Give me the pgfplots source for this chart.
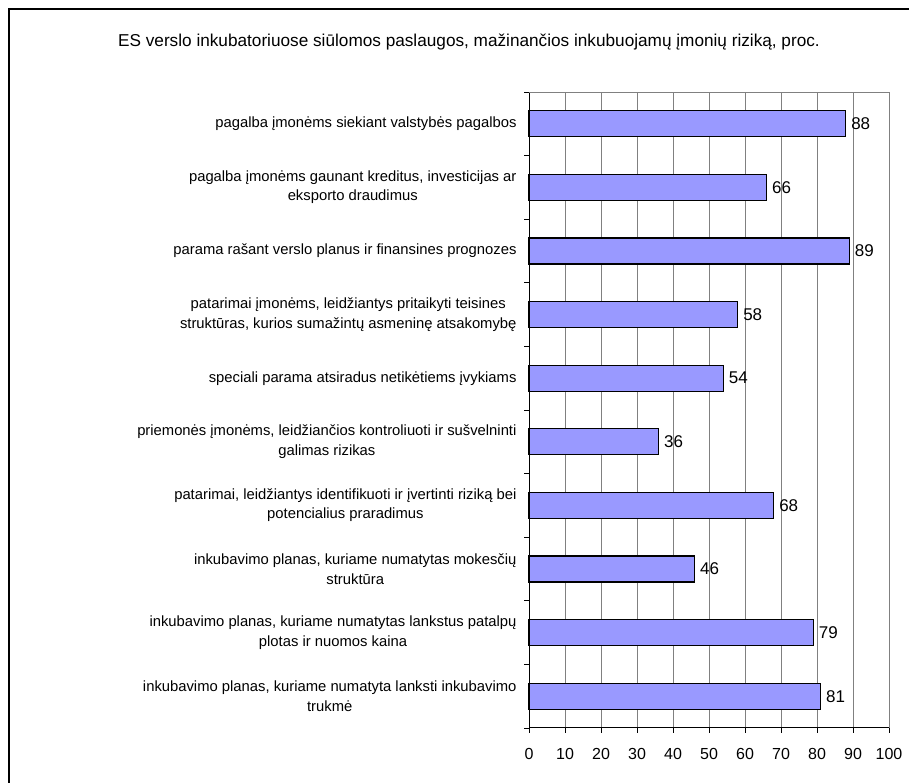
\documentclass[border=0pt]{standalone}
\usepackage{fontspec}
\setmainfont{Liberation Sans}
\usepackage{pgfplots}
\pgfplotsset{compat=1.18}
\definecolor{barfill}{HTML}{9999FF}
\definecolor{gridgray}{HTML}{808080}

\begin{document}
\begin{tikzpicture}
\useasboundingbox (0pt,0pt) rectangle (909pt,783pt);
% outer frame (only top and left visible)
\draw[line width=1.8pt] (9pt,-10pt) -- (9pt,774pt) -- (930pt,774pt);
\node[font=\fontsize{17.2}{19}\selectfont] at (469pt,741pt)
  {ES verslo inkubatoriuose siūlomos paslaugos, mažinančios inkubuojamų įmonių riziką, proc.};
\begin{axis}[
    at={(529pt,55pt)}, anchor=south west,
    scale only axis,
    width=360pt, height=636pt,
    xbar, bar width=26pt,
    xmin=0, xmax=100,
    ymin=-0.5, ymax=9.5,
    xtick={0,10,...,100},
    ytick={0,...,9},
    minor ytick={-0.5,0.5,...,9.5},
    major y tick style={draw=none},
    tick align=outside,
    major tick length=5pt, minor tick length=5pt,
    tick style={black, thick},
    xmajorgrids, major grid style={gridgray, line width=0.9pt},
    axis x line*=bottom, axis y line*=left,
    axis line style={black, line width=1pt},
    extra y ticks={9.5}, extra y tick labels={},
    extra y tick style={grid=major, major tick length=0pt},
    /pgf/number format/assume math mode=true,
    yticklabels={
      {inkubavimo planas, kuriame numatyta lanksti inkubavimo\\trukmė},
      {inkubavimo planas, kuriame numatytas lankstus patalpų\\plotas ir nuomos kaina},
      {inkubavimo planas, kuriame numatytas mokesčių\\struktūra},
      {patarimai, leidžiantys identifikuoti ir įvertinti riziką bei\\potencialius praradimus},
      {priemonės įmonėms, leidžiančios kontroliuoti ir sušvelninti\\galimas rizikas},
      {speciali parama atsiradus netikėtiems įvykiams},
      {patarimai įmonėms, leidžiantys pritaikyti teisines\\struktūras, kurios sumažintų asmeninę atsakomybę},
      {parama rašant verslo planus ir finansines prognozes},
      {pagalba įmonėms gaunant kreditus, investicijas ar\\eksporto draudimus},
      {pagalba įmonėms siekiant valstybės pagalbos}},
    yticklabel style={font=\fontsize{14.8}{19.5}\selectfont, align=center, xshift=-4pt},
    xticklabel style={font=\fontsize{16}{18}\selectfont, yshift=-12pt},
    nodes near coords, point meta=x,
    nodes near coords style={font=\fontsize{17}{18}\selectfont, anchor=west, xshift=1.5pt},
    clip=false,
]
\addplot[fill=barfill, draw=black, line width=1.3pt] coordinates {
    (81,0) (79,1) (46,2) (68,3) (36,4)
    (54,5) (58,6) (89,7) (66,8) (88,9)
};
\end{axis}
\end{tikzpicture}
\end{document}
